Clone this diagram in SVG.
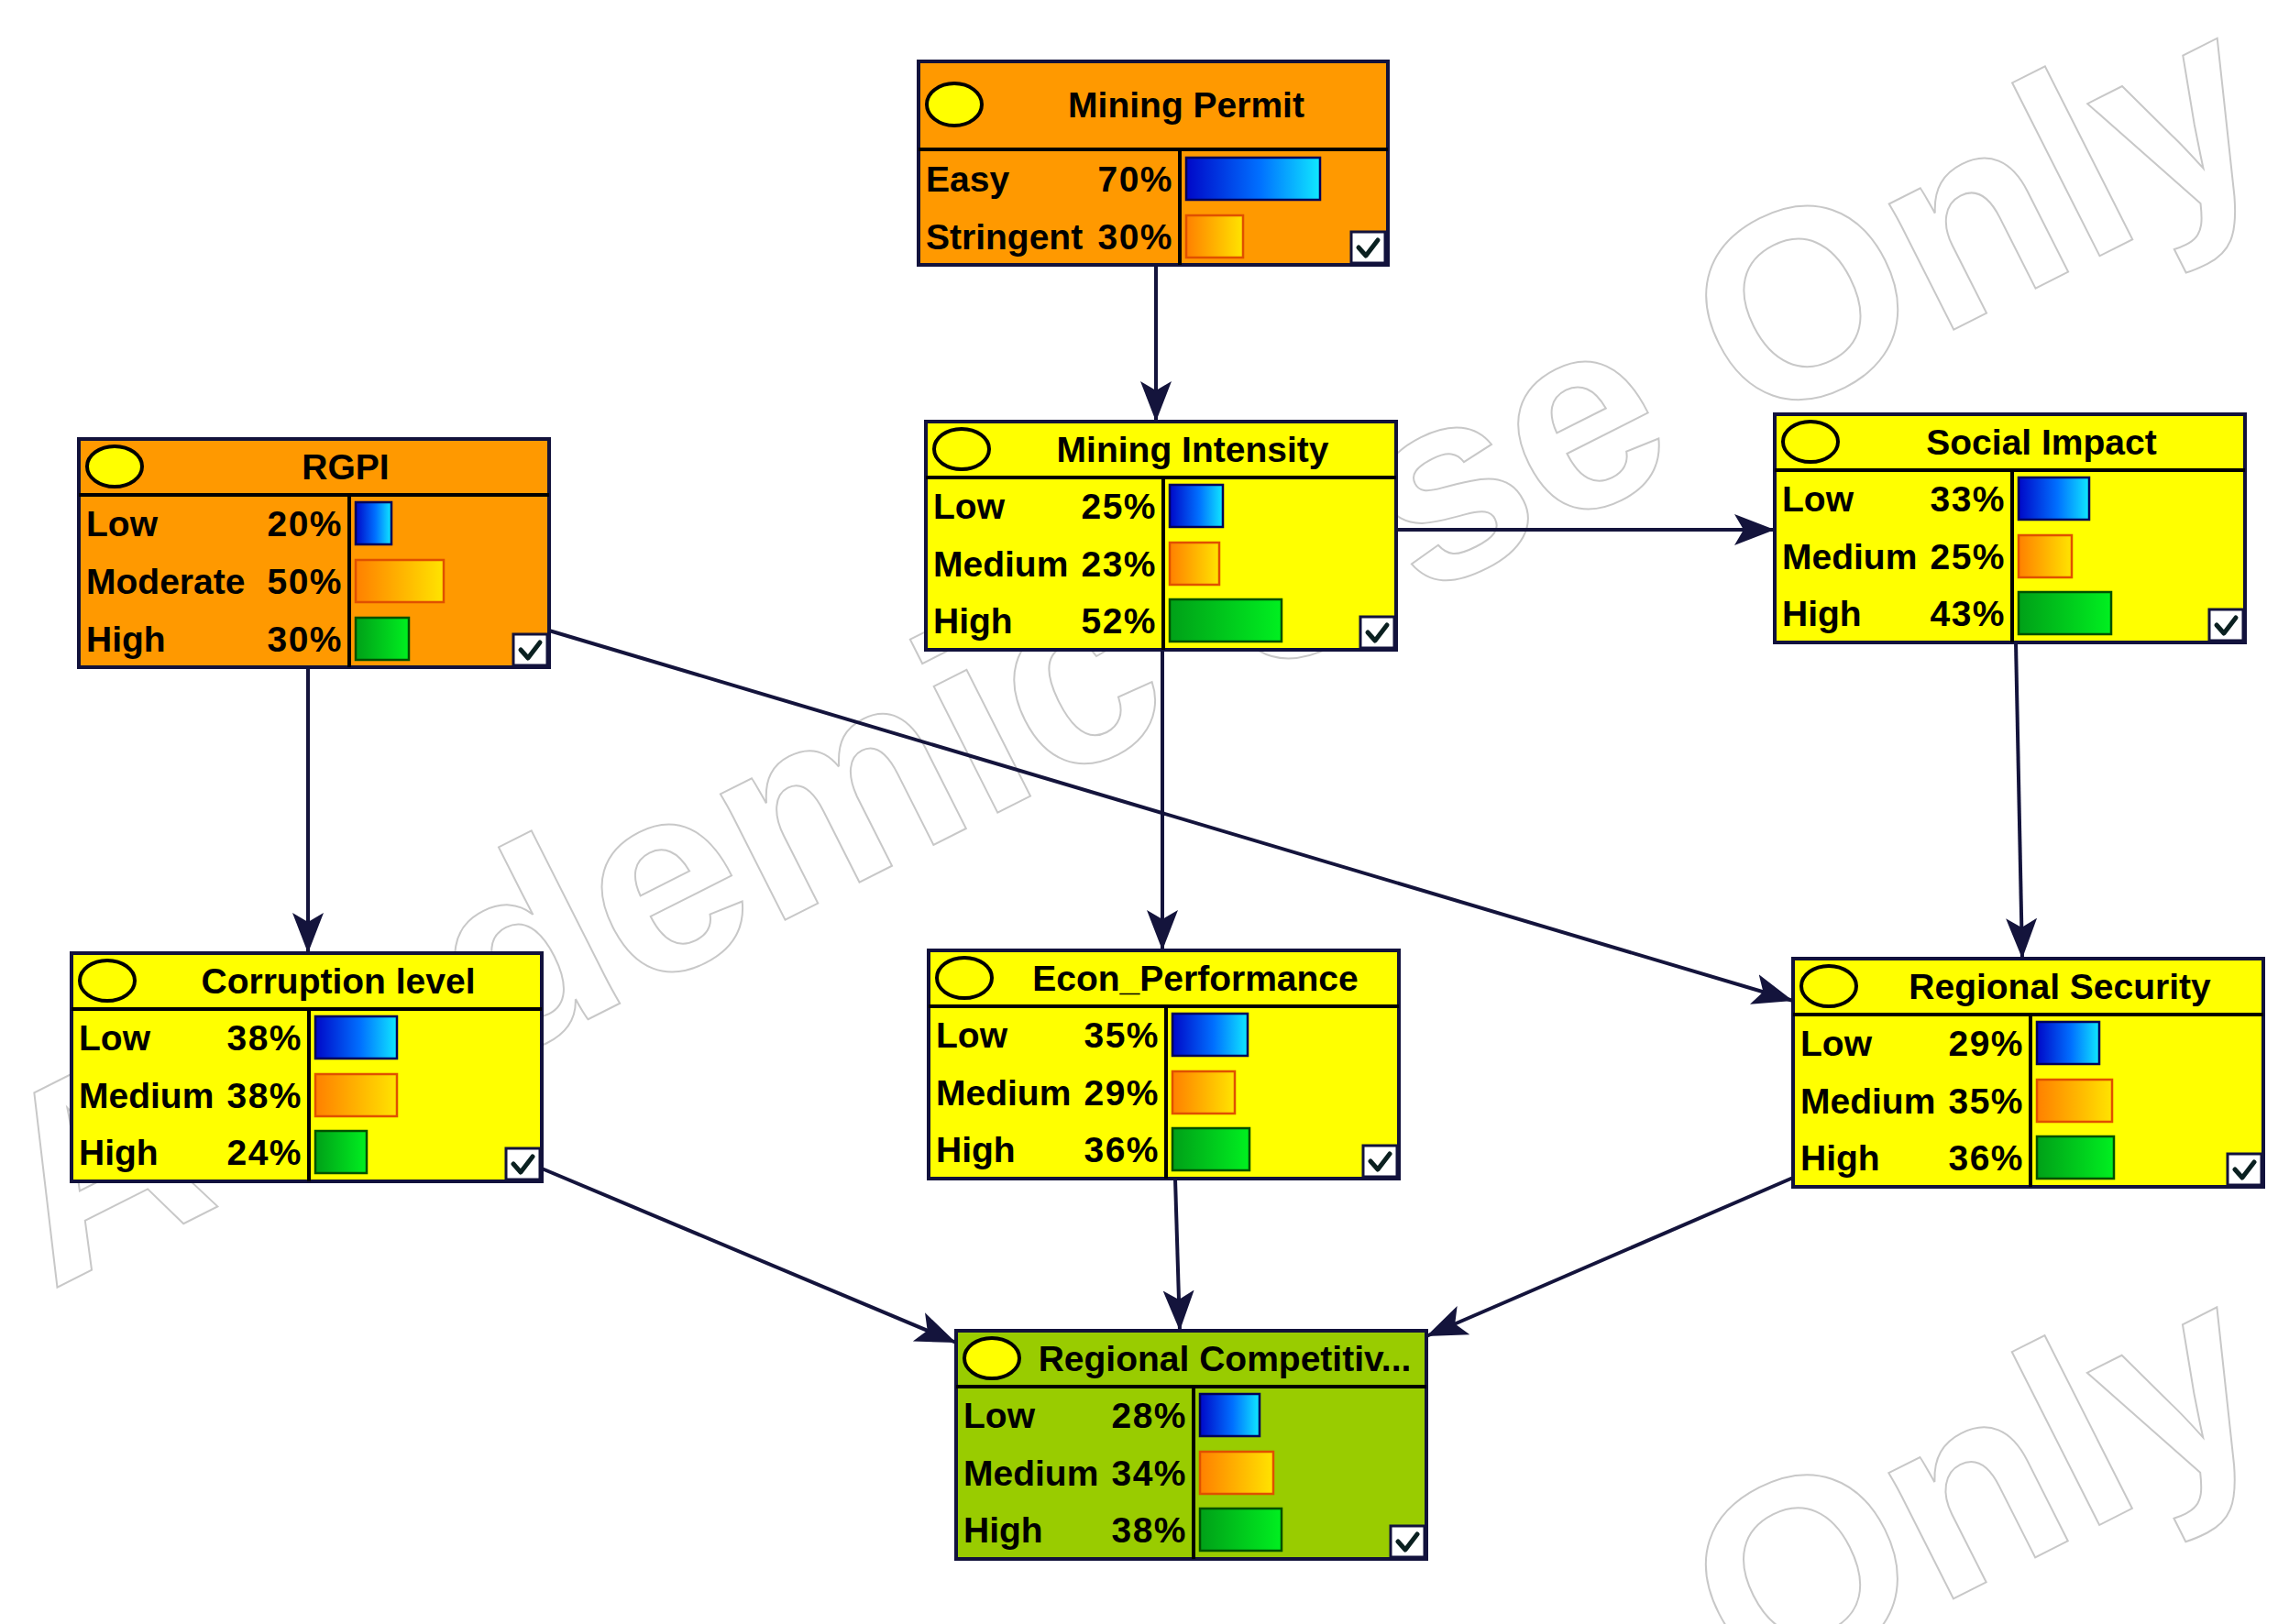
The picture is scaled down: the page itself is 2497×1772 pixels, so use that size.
<svg xmlns="http://www.w3.org/2000/svg" width="2497" height="1772" viewBox="0 0 2497 1772">
<style>
.wm{font-family:"Liberation Sans",Arial,sans-serif;font-size:292px;font-weight:bold;fill:none;stroke:#c8c8c8;stroke-width:2}
.nb{stroke:#12123c;stroke-width:4}
.org{fill:#ff9900}
.yel{fill:#ffff00}
.grn{fill:#99cc00}
.t{font-family:"Liberation Sans",Arial,sans-serif;font-size:39px;font-weight:bold;fill:#000}
.p{text-anchor:end;letter-spacing:1.5px}
.ttl{text-anchor:middle}
.ln{stroke:#000;stroke-width:4;fill:none}
.ell{stroke:#000;stroke-width:4}
.bb{fill:url(#gB);stroke:#00005a;stroke-width:2.5}
.ob{fill:url(#gO);stroke:#e05000;stroke-width:2.5}
.gb{fill:url(#gG);stroke:#005000;stroke-width:2.5}
.cb{fill:#fff;stroke:#12123c;stroke-width:3}
.ck{fill:none;stroke:#0a2020;stroke-width:5;stroke-linecap:round;stroke-linejoin:round}
.edge{fill:none;stroke:#14143c;stroke-width:4;marker-end:url(#arr)}
</style>
<defs>
<linearGradient id="gB" x1="0" y1="0" x2="1" y2="0"><stop offset="0" stop-color="#0008c8"/><stop offset="0.55" stop-color="#0070ff"/><stop offset="1" stop-color="#10e8ff"/></linearGradient>
<linearGradient id="gO" x1="0" y1="0" x2="1" y2="0"><stop offset="0" stop-color="#ff8000"/><stop offset="1" stop-color="#ffe400"/></linearGradient>
<linearGradient id="gG" x1="0" y1="0" x2="1" y2="0"><stop offset="0" stop-color="#00a018"/><stop offset="1" stop-color="#00f020"/></linearGradient>
<marker id="arr" markerUnits="userSpaceOnUse" markerWidth="46" markerHeight="36" refX="44" refY="18" orient="auto"><path d="M0,1 L44,18 L0,35 L10,18 z" fill="#14143c"/></marker>
</defs>
<rect width="2497" height="1772" fill="#fff"/>

<g id="watermark">
<text class="wm" x="56" y="1408" transform="rotate(-26.8 56 1408)">Academic Use Only</text>
<text class="wm" x="1910" y="1856" transform="rotate(-26.8 1910 1856)">Only</text>
</g>

<g id="connectors">
<path class="edge" d="M1261,289 L1261,460"/>
<path class="edge" d="M1523,578 L1936,578"/>
<path class="edge" d="M1268,709 L1268,1037"/>
<path class="edge" d="M336,728 L336,1040"/>
<path class="edge" d="M599,688 L1956,1092"/>
<path class="edge" d="M2199,701 L2206,1046"/>
<path class="edge" d="M591,1275 L1043,1465"/>
<path class="edge" d="M1282,1286 L1287,1452"/>
<path class="edge" d="M1956,1285 L1556,1458"/>
</g>

<g id="mining-permit">
<rect class="nb org" x="1002" y="67" width="512" height="222"/>
<line class="ln" x1="1002" y1="163" x2="1514" y2="163"/>
<line class="ln" x1="1287" y1="163" x2="1287" y2="289"/>
<ellipse class="ell" cx="1041" cy="114" rx="30" ry="23" fill="#ffff00"/>
<text class="t ttl" x="1294" y="128">Mining Permit</text>
<text class="t" x="1010" y="209">Easy</text><text class="t p" x="1280" y="209">70%</text>
<text class="t" x="1010" y="272">Stringent</text><text class="t p" x="1280" y="272">30%</text>
<rect class="bb" x="1294" y="172" width="146" height="46"/>
<rect class="ob" x="1294" y="235" width="62" height="46"/>
<rect class="cb" x="1474" y="253" width="37" height="34"/>
<path class="ck" d="M1482,270 L1490,279 L1503,262"/>
</g>

<g id="rgpi">
<rect class="nb org" x="86" y="479" width="513" height="249"/>
<line class="ln" x1="86" y1="540" x2="599" y2="540"/>
<line class="ln" x1="381" y1="540" x2="381" y2="728"/>
<ellipse class="ell" cx="125" cy="509" rx="30" ry="22" fill="#ffff00"/>
<text class="t ttl" x="377" y="523">RGPI</text>
<text class="t" x="94" y="585">Low</text><text class="t p" x="374" y="585">20%</text>
<text class="t" x="94" y="648">Moderate</text><text class="t p" x="374" y="648">50%</text>
<text class="t" x="94" y="711">High</text><text class="t p" x="374" y="711">30%</text>
<rect class="bb" x="388" y="548" width="39" height="46"/>
<rect class="ob" x="388" y="611" width="96" height="46"/>
<rect class="gb" x="388" y="674" width="58" height="46"/>
<rect class="cb" x="560" y="692" width="37" height="34"/>
<path class="ck" d="M568,709 L576,718 L589,701"/>
</g>

<g id="mining-intensity">
<rect class="nb yel" x="1010" y="460" width="513" height="249"/>
<line class="ln" x1="1010" y1="521" x2="1523" y2="521"/>
<line class="ln" x1="1269" y1="521" x2="1269" y2="709"/>
<ellipse class="ell" cx="1049" cy="490" rx="30" ry="22" fill="none"/>
<text class="t ttl" x="1301" y="504">Mining Intensity</text>
<text class="t" x="1018" y="566">Low</text><text class="t p" x="1262" y="566">25%</text>
<text class="t" x="1018" y="629">Medium</text><text class="t p" x="1262" y="629">23%</text>
<text class="t" x="1018" y="691">High</text><text class="t p" x="1262" y="691">52%</text>
<rect class="bb" x="1276" y="529" width="58" height="46"/>
<rect class="ob" x="1276" y="592" width="54" height="46"/>
<rect class="gb" x="1276" y="654" width="122" height="46"/>
<rect class="cb" x="1484" y="673" width="37" height="34"/>
<path class="ck" d="M1492,690 L1500,699 L1513,682"/>
</g>

<g id="social-impact">
<rect class="nb yel" x="1936" y="452" width="513" height="249"/>
<line class="ln" x1="1936" y1="513" x2="2449" y2="513"/>
<line class="ln" x1="2195" y1="513" x2="2195" y2="701"/>
<ellipse class="ell" cx="1975" cy="482" rx="30" ry="22" fill="none"/>
<text class="t ttl" x="2227" y="496">Social Impact</text>
<text class="t" x="1944" y="558">Low</text><text class="t p" x="2188" y="558">33%</text>
<text class="t" x="1944" y="621">Medium</text><text class="t p" x="2188" y="621">25%</text>
<text class="t" x="1944" y="683">High</text><text class="t p" x="2188" y="683">43%</text>
<rect class="bb" x="2202" y="521" width="77" height="46"/>
<rect class="ob" x="2202" y="584" width="58" height="46"/>
<rect class="gb" x="2202" y="646" width="101" height="46"/>
<rect class="cb" x="2410" y="665" width="37" height="34"/>
<path class="ck" d="M2418,682 L2426,691 L2439,674"/>
</g>

<g id="corruption-level">
<rect class="nb yel" x="78" y="1040" width="513" height="249"/>
<line class="ln" x1="78" y1="1101" x2="591" y2="1101"/>
<line class="ln" x1="337" y1="1101" x2="337" y2="1289"/>
<ellipse class="ell" cx="117" cy="1070" rx="30" ry="22" fill="none"/>
<text class="t ttl" x="369" y="1084">Corruption level</text>
<text class="t" x="86" y="1146">Low</text><text class="t p" x="330" y="1146">38%</text>
<text class="t" x="86" y="1209">Medium</text><text class="t p" x="330" y="1209">38%</text>
<text class="t" x="86" y="1271">High</text><text class="t p" x="330" y="1271">24%</text>
<rect class="bb" x="344" y="1109" width="89" height="46"/>
<rect class="ob" x="344" y="1172" width="89" height="46"/>
<rect class="gb" x="344" y="1234" width="56" height="46"/>
<rect class="cb" x="552" y="1253" width="37" height="34"/>
<path class="ck" d="M560,1270 L568,1279 L581,1262"/>
</g>

<g id="econ-performance">
<rect class="nb yel" x="1013" y="1037" width="513" height="249"/>
<line class="ln" x1="1013" y1="1098" x2="1526" y2="1098"/>
<line class="ln" x1="1272" y1="1098" x2="1272" y2="1286"/>
<ellipse class="ell" cx="1052" cy="1067" rx="30" ry="22" fill="none"/>
<text class="t ttl" x="1304" y="1081">Econ_Performance</text>
<text class="t" x="1021" y="1143">Low</text><text class="t p" x="1265" y="1143">35%</text>
<text class="t" x="1021" y="1206">Medium</text><text class="t p" x="1265" y="1206">29%</text>
<text class="t" x="1021" y="1268">High</text><text class="t p" x="1265" y="1268">36%</text>
<rect class="bb" x="1279" y="1106" width="82" height="46"/>
<rect class="ob" x="1279" y="1169" width="68" height="46"/>
<rect class="gb" x="1279" y="1231" width="84" height="46"/>
<rect class="cb" x="1487" y="1250" width="37" height="34"/>
<path class="ck" d="M1495,1267 L1503,1276 L1516,1259"/>
</g>

<g id="regional-security">
<rect class="nb yel" x="1956" y="1046" width="513" height="249"/>
<line class="ln" x1="1956" y1="1107" x2="2469" y2="1107"/>
<line class="ln" x1="2215" y1="1107" x2="2215" y2="1295"/>
<ellipse class="ell" cx="1995" cy="1076" rx="30" ry="22" fill="none"/>
<text class="t ttl" x="2247" y="1090">Regional Security</text>
<text class="t" x="1964" y="1152">Low</text><text class="t p" x="2208" y="1152">29%</text>
<text class="t" x="1964" y="1215">Medium</text><text class="t p" x="2208" y="1215">35%</text>
<text class="t" x="1964" y="1277">High</text><text class="t p" x="2208" y="1277">36%</text>
<rect class="bb" x="2222" y="1115" width="68" height="46"/>
<rect class="ob" x="2222" y="1178" width="82" height="46"/>
<rect class="gb" x="2222" y="1240" width="84" height="46"/>
<rect class="cb" x="2430" y="1259" width="37" height="34"/>
<path class="ck" d="M2438,1276 L2446,1285 L2459,1268"/>
</g>

<g id="regional-competitiveness">
<rect class="nb grn" x="1043" y="1452" width="513" height="249"/>
<line class="ln" x1="1043" y1="1513" x2="1556" y2="1513"/>
<line class="ln" x1="1302" y1="1513" x2="1302" y2="1701"/>
<ellipse class="ell" cx="1082" cy="1482" rx="30" ry="22" fill="#ffff00"/>
<text class="t ttl" x="1336" y="1496">Regional Competitiv...</text>
<text class="t" x="1051" y="1558">Low</text><text class="t p" x="1295" y="1558">28%</text>
<text class="t" x="1051" y="1621">Medium</text><text class="t p" x="1295" y="1621">34%</text>
<text class="t" x="1051" y="1683">High</text><text class="t p" x="1295" y="1683">38%</text>
<rect class="bb" x="1309" y="1521" width="65" height="46"/>
<rect class="ob" x="1309" y="1584" width="80" height="46"/>
<rect class="gb" x="1309" y="1646" width="89" height="46"/>
<rect class="cb" x="1517" y="1665" width="37" height="34"/>
<path class="ck" d="M1525,1682 L1533,1691 L1546,1674"/>
</g>
</svg>
